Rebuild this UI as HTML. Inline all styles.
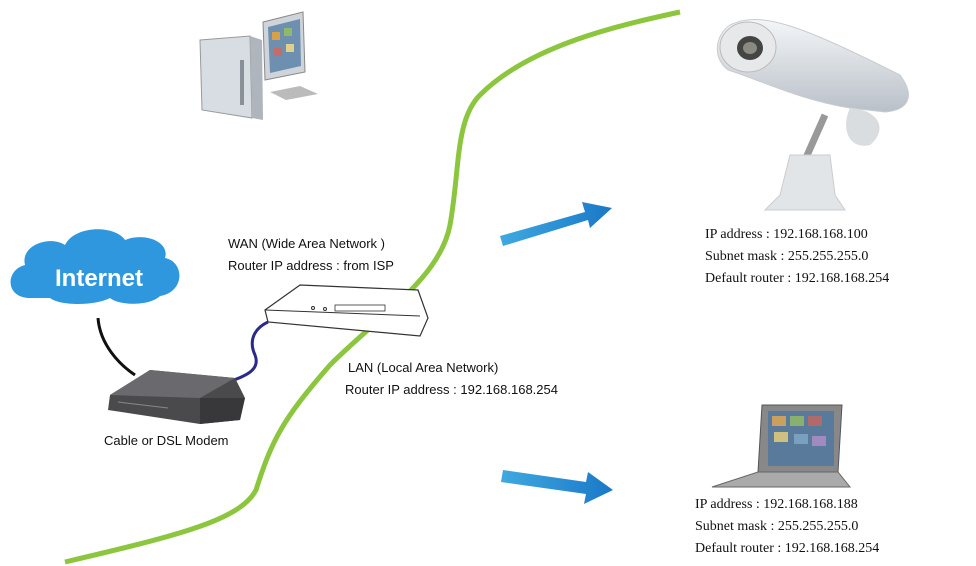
<!DOCTYPE html>
<html><head><meta charset="utf-8"><style>
body{margin:0;background:#fff;width:976px;height:566px;overflow:hidden}
svg{display:block}
text{font-family:"Liberation Sans",sans-serif;font-size:13px;fill:#111}
.s{font-family:"Liberation Serif",serif;font-size:14px}
</style></head><body>
<svg width="976" height="566" viewBox="0 0 976 566">
<defs>
<linearGradient id="cam" x1="0" y1="0" x2="0" y2="1"><stop offset="0" stop-color="#f4f6f8"/><stop offset="1" stop-color="#b9c0c8"/></linearGradient>
<linearGradient id="arr" x1="0" y1="0" x2="1" y2="0"><stop offset="0" stop-color="#3fa9e0"/><stop offset="1" stop-color="#1a78c8"/></linearGradient>
</defs>
<!-- green line -->
<path d="M65,562 C180,535 240,520 256,490 C272,440 282,420 330,365 C380,315 440,278 450,225 C460,170 455,120 480,95 C530,45 620,25 680,12" fill="none" stroke="#8cc63f" stroke-width="5"/>
<!-- computer -->
<g>
<polygon points="200,40 250,36 252,118 202,110" fill="#d8dde3" stroke="#999"/>
<polygon points="250,36 262,40 263,120 252,118" fill="#aeb5bd"/>
<rect x="240" y="60" width="4" height="45" fill="#8a9098"/>
<polygon points="263,22 303,12 305,72 265,80" fill="#cfd4da" stroke="#888"/>
<polygon points="268,27 300,19 301,66 270,73" fill="#6d8fb0"/>
<rect x="272" y="32" width="8" height="8" fill="#d9a04a"/><rect x="284" y="28" width="8" height="8" fill="#8fb86a"/><rect x="274" y="48" width="8" height="8" fill="#c76a6a"/><rect x="286" y="44" width="8" height="8" fill="#e0d08a"/>
<polygon points="270,92 300,86 318,94 286,100" fill="#bbb"/>
</g>
<!-- internet cloud -->
<path d="M30,298 C5,298 5,270 25,265 C20,245 50,235 65,245 C75,225 115,225 125,240 C145,232 170,242 165,258 C185,262 185,292 160,296 C150,306 120,306 110,298 C95,306 60,306 50,298 Z" fill="#2f97de"/>
<text x="55" y="286" style="font-size:24px;font-weight:bold;fill:#fff">Internet</text>
<!-- cables -->
<path d="M98,318 C100,345 120,365 135,375" fill="none" stroke="#111" stroke-width="3"/>
<path d="M228,382 C250,375 260,368 255,355 C248,340 255,328 268,322" fill="none" stroke="#2a2a8a" stroke-width="3"/>
<!-- modem -->
<polygon points="110,395 150,370 235,378 245,398 240,420 200,424 108,410" fill="#4a4a4c"/>
<polygon points="110,395 150,370 235,378 200,398" fill="#6a6a6e"/>
<polygon points="200,398 245,398 240,420 200,424" fill="#38383a"/>
<line x1="118" y1="402" x2="168" y2="408" stroke="#888"/>
<text x="104" y="445">Cable or DSL Modem</text>
<!-- router -->
<polygon points="265,310 300,285 418,290 428,318 420,336 268,322" fill="#fff" stroke="#333" stroke-width="1.2"/>
<line x1="265" y1="310" x2="420" y2="316" stroke="#333"/>
<rect x="335" y="305" width="50" height="6" fill="none" stroke="#333" stroke-width=".8"/>
<circle cx="313" cy="308" r="1.5" fill="none" stroke="#333"/><circle cx="325" cy="309" r="1.5" fill="none" stroke="#333"/>
<text x="228" y="248">WAN (Wide Area Network )</text>
<text x="228" y="270">Router IP address : from ISP</text>
<text x="348" y="372">LAN (Local Area Network)</text>
<text x="345" y="394">Router IP address : 192.168.168.254</text>
<!-- arrows -->
<polygon points="500,236 585,212 582,202 612,208 590,228 588,220 503,246" fill="url(#arr)"/>
<polygon points="503,470 586,482 588,472 613,490 584,504 586,494 501,482" fill="url(#arr)"/>
<!-- camera -->
<path d="M730,25 C760,10 800,25 900,75 C915,95 910,110 885,112 L850,108 C800,100 760,80 728,70 C712,58 715,35 730,25 Z" fill="url(#cam)" stroke="#c8ccd0"/>
<ellipse cx="748" cy="47" rx="28" ry="25" fill="#e6e8ea" stroke="#bbb"/>
<ellipse cx="750" cy="48" rx="13" ry="12" fill="#444"/>
<ellipse cx="750" cy="48" rx="7" ry="6" fill="#8a8a80"/>
<path d="M850,108 C880,110 888,130 870,145 C850,150 840,130 850,108Z" fill="#d9dde0"/>
<line x1="825" y1="115" x2="805" y2="160" stroke="#999" stroke-width="7"/>
<path d="M790,155 L830,155 L835,195 L845,210 L765,210 L780,195 Z" fill="#e2e5e8" stroke="#ccc"/>
<text class="s" x="705" y="238">IP address : 192.168.168.100</text>
<text class="s" x="705" y="260">Subnet mask : 255.255.255.0</text>
<text class="s" x="705" y="282">Default router : 192.168.168.254</text>
<!-- laptop -->
<polygon points="762,405 842,405 838,472 758,472" fill="#888" stroke="#555"/>
<rect x="768" y="411" width="66" height="55" fill="#5a7a9c"/>
<rect x="772" y="416" width="14" height="10" fill="#c9a060"/><rect x="790" y="416" width="14" height="10" fill="#8ab070"/><rect x="808" y="416" width="14" height="10" fill="#b06a6a"/><rect x="774" y="432" width="14" height="10" fill="#d0c080"/><rect x="794" y="434" width="14" height="10" fill="#7aa0c0"/><rect x="812" y="436" width="14" height="10" fill="#a08ac0"/>
<polygon points="758,472 838,472 850,487 712,487" fill="#aaa" stroke="#666"/>
<text class="s" x="695" y="508">IP address : 192.168.168.188</text>
<text class="s" x="695" y="530">Subnet mask : 255.255.255.0</text>
<text class="s" x="695" y="552">Default router : 192.168.168.254</text>
</svg>
</body></html>
